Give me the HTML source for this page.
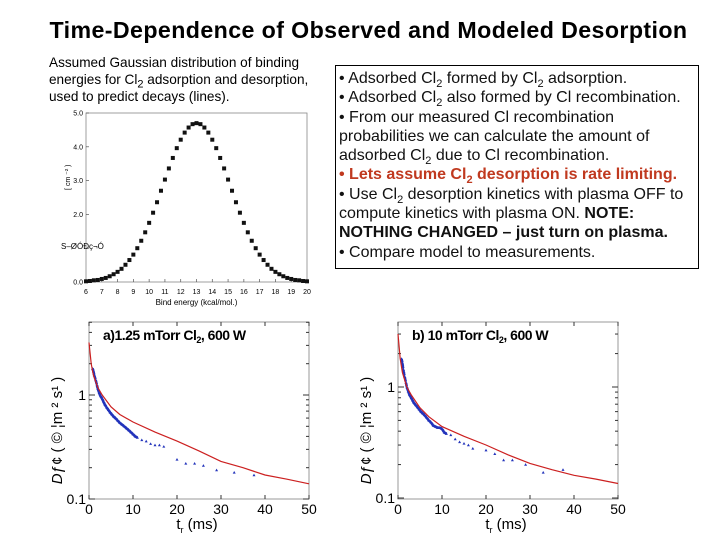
<!DOCTYPE html>
<html><head><meta charset="utf-8">
<style>
body{margin:0;width:720px;height:540px;background:#fff;overflow:hidden;font-family:"Liberation Sans",Arial,sans-serif;}
#title{position:absolute;left:0;width:737px;top:17px;text-align:center;font-weight:bold;font-size:23.2px;letter-spacing:0.4px;color:#000;}
#intro{position:absolute;left:49px;top:54px;width:290px;font-size:13.6px;line-height:17px;color:#000;white-space:nowrap;}
#box{position:absolute;left:335px;top:65px;width:364px;height:204px;border:1px solid #000;box-sizing:border-box;padding:3px 0 0 3px;font-size:16px;line-height:19.3px;color:#111;white-space:nowrap;}
.red{color:#c0391f;font-weight:bold;}
sub{font-size:11px;line-height:0;}
svg{position:absolute;left:0;top:0;}
</style></head><body>
<div id="title">Time-Dependence of Observed and Modeled Desorption</div>
<div id="intro">Assumed Gaussian distribution of binding<br>energies for Cl<sub>2</sub> adsorption and desorption,<br>used to predict decays (lines).</div>
<div id="box">
• Adsorbed Cl<sub>2</sub> formed by Cl<sub>2</sub> adsorption.<br>
• Adsorbed Cl<sub>2</sub> also formed by Cl recombination.<br>
• From our measured Cl recombination<br>probabilities we can calculate the amount of<br>adsorbed Cl<sub>2</sub> due to Cl recombination.<br>
<span class="red">• Lets assume Cl<sub>2</sub> desorption is rate limiting.</span><br>
• Use Cl<sub>2</sub> desorption kinetics with plasma OFF to<br>compute kinetics with plasma ON. <b>NOTE:</b><br><b>NOTHING CHANGED – just turn on plasma.</b><br>
• Compare model to measurements.
</div>
<svg id="svg" width="720" height="540"></svg>
<script>
const gaussX=[];for(let i=0;i<=56;i++)gaussX.push(6+i*0.25);
const gaussVals=[0.02,0.03,0.05,0.06,0.09,0.12,0.17,0.23,0.30,0.39,0.51,0.65,0.81,1.00,1.22,1.47,1.75,2.05,2.36,2.70,3.03,3.36,3.67,3.96,4.21,4.42,4.57,4.67,4.70,4.67,4.57,4.42,4.21,3.96,3.67,3.36,3.03,2.70,2.36,2.05,1.75,1.47,1.22,1.00,0.81,0.65,0.51,0.39,0.30,0.23,0.17,0.12,0.09,0.06,0.05,0.03,0.02];
const gaussXTicks=[6,7,8,9,10,11,12,13,14,15,16,17,18,19,20];
const gaussYTicks=["0.0","1.0","2.0","3.0","4.0","5.0"];

const modelT=[0,0.5,1,2,3,5,7,10,15,20,25,30,35,40,45,50];
const modelA=[3.2,2.0,1.55,1.18,1.0,0.77,0.65,0.55,0.44,0.36,0.29,0.23,0.2,0.17,0.155,0.14];
const modelB=[3.0,1.8,1.35,1.0,0.85,0.65,0.54,0.44,0.36,0.3,0.245,0.205,0.18,0.16,0.148,0.135];
const dataT=[0.8,1,1.2,1.5,1.8,2,2.3,2.6,3,3.3,3.6,4,4.4,4.8,5.2,5.6,6,6.5,7,7.5,8,8.5,9,9.5,10,10.5,11,12,13,14,15,16,17,20,22,24,26,29,33,37.5];
const dataA=[1.8,1.7,1.55,1.4,1.25,1.15,1.05,0.98,0.92,0.86,0.81,0.76,0.72,0.68,0.65,0.62,0.6,0.57,0.54,0.52,0.5,0.48,0.46,0.44,0.42,0.4,0.39,0.37,0.36,0.34,0.33,0.33,0.32,0.24,0.22,0.22,0.21,0.19,0.18,0.17];
const dataB=[1.8,1.65,1.45,1.25,1.1,1.0,0.92,0.85,0.8,0.76,0.72,0.69,0.66,0.63,0.6,0.58,0.56,0.53,0.5,0.48,0.45,0.44,0.43,0.43,0.42,0.39,0.38,0.37,0.34,0.32,0.31,0.3,0.28,0.27,0.25,0.22,0.22,0.2,0.17,0.18];
const decayXTicks=[0,10,20,30,40,50];

const NS="http://www.w3.org/2000/svg";
const svg=document.getElementById('svg');
function mk(tag,attrs,parent){const e=document.createElementNS(NS,tag);for(const k in attrs)e.setAttribute(k,attrs[k]);(parent||svg).appendChild(e);return e;}

(function(){
 const L=86,R=307,T=113,B=282;
 const g=mk('g',{});
 
 
 const x=v=>L+(v-6)/14*(R-L), y=v=>B-v/5*(B-T);
 const fr=mk('rect',{x:L,y:T,width:R-L,height:B-T,fill:'none',stroke:'#888','stroke-width':0.8},g);
 
 
 gaussXTicks.forEach(t=>{
  mk('line',{x1:x(t),x2:x(t),y1:B,y2:B-3,stroke:'#555','stroke-width':0.7},g);
  const tx=mk('text',{x:x(t),y:B+12,'font-size':7,'text-anchor':'middle',fill:'#000'},g);tx.textContent=t;
  
  
 });
 gaussYTicks.forEach(t=>{
  const v=parseFloat(t);
  mk('line',{x1:L,x2:L+3,y1:y(v),y2:y(v),stroke:'#555','stroke-width':0.7},g);
  if(v!==1){const tx=mk('text',{x:L-3,y:y(v)+2.5,'font-size':7,'text-anchor':'end',fill:'#000'},g);tx.textContent=t;
  
  }
 });
 const xt=mk('text',{x:(L+R)/2,y:B+23,'font-size':8,'text-anchor':'middle'},g);xt.textContent='Bind energy (kcal/mol.)';
 
 
 const yt=mk('text',{x:61,y:249,'font-size':8,fill:'#000'},g);yt.textContent='S\u2013\u00d8\u00d3\u00d0\u00e7\u00ac\u00d3';
 
 
 const yt2=mk('text',{x:70,y:190,'font-size':7,transform:'rotate(-90 70 190)'},g);yt2.textContent='[ cm \u207b\u00b2 )';
 
 
 gaussX.forEach((xv,i)=>{
  const r=mk('rect',{x:x(xv)-2,y:y(gaussVals[i])-2,width:4,height:4,fill:'#111'},g);
  
  
 });
})();

function decay(L,R,T,B,y1,decade,model,data,label,name){
 const g=mk('g',{});
 
 
 const x=v=>L+v/50*(R-L), y=v=>y1-Math.log10(v)*decade;
 const fr=mk('rect',{x:L,y:T,width:R-L,height:B-T,fill:'none',stroke:'#999','stroke-width':1},g);
 
 
 decayXTicks.forEach(t=>{
  mk('line',{x1:x(t),x2:x(t),y1:B,y2:B-4,stroke:'#333'},g);
  mk('line',{x1:x(t),x2:x(t),y1:T,y2:T+4,stroke:'#333'},g);
  const tx=mk('text',{x:x(t),y:B+15,'font-size':14,'text-anchor':'middle'},g);tx.textContent=t;
  
  
 });
 [0.1,0.2,0.3,0.4,0.5,0.6,0.7,0.8,0.9,1,2,3,4,5].forEach(v=>{
  const yy=y(v); if(yy<T-0.5||yy>B+0.5)return;
  const len=(v===0.1||v===1)?6:3;
  mk('line',{x1:L,x2:L+len,y1:yy,y2:yy,stroke:'#333'},g);
  mk('line',{x1:R,x2:R-len,y1:yy,y2:yy,stroke:'#333'},g);
 });
 [[0.1,'0.1'],[1,'1']].forEach(([v,s])=>{
  const tx=mk('text',{x:L-3,y:y(v)+5,'font-size':14,'text-anchor':'end'},g);tx.textContent=s;
  
  
 });
 const xt=mk('text',{x:(L+R)/2-2,y:B+30,'font-size':15,'text-anchor':'middle'},g);xt.innerHTML='t<tspan font-size="9" dy="4">r</tspan><tspan dy="-4"> (ms)</tspan>';
 
 
 const cy=(T+B)/2+20, cx=L-27;
 const yt=mk('text',{x:cx,y:cy,'font-size':15,transform:`rotate(-90 ${cx} ${cy})`,'text-anchor':'middle'},g);
 yt.innerHTML='<tspan font-style="italic">D</tspan>\u0192\u00a2  ( \u00a9   \u00a6m \u00b2 s\u00b9 )';
 
 
 const lb=mk('text',{x:L+14,y:T+18,'font-size':14,'font-weight':'bold','letter-spacing':'-0.5'},g);lb.innerHTML=label;
 
 
 const pts=data.map((v,i)=>[x(dataT[i]),y(v)]);
 pts.forEach(p=>{
  const r=mk('path',{d:`M${p[0]-1.5},${p[1]+1.2}L${p[0]+1.5},${p[1]+1.2}L${p[0]},${p[1]-1.4}Z`,fill:'#2233bb'},g);
  
  
 });
 for(let i=0;i<pts.length-1;i++){ if(dataT[i+1]>11)break;
  for(let k=1;k<4;k++){const f=k/4;const px=pts[i][0]+(pts[i+1][0]-pts[i][0])*f,py=pts[i][1]+(pts[i+1][1]-pts[i][1])*f;
   const r=mk('circle',{cx:px,cy:py,r:1.3,fill:'#2233bb'},g);
   
   }
 }
 let d='';modelT.forEach((t,i)=>{d+=(i?'L':'M')+x(t).toFixed(1)+','+y(model[i]).toFixed(1);});
 const ln=mk('path',{d:d,fill:'none',stroke:'#cc2020','stroke-width':1.2},g);
 
 
}
decay(89,309,322,499,395,104,modelA,dataA,'a)1.25 mTorr Cl<tspan font-size="9" dy="3">2</tspan><tspan dy="-3">, 600 W</tspan>','decay-chart-a');
decay(398,618,322,499,387,111,modelB,dataB,'b) 10 mTorr Cl<tspan font-size="9" dy="3">2</tspan><tspan dy="-3">, 600 W</tspan>','decay-chart-b');
</script>
</body></html>
